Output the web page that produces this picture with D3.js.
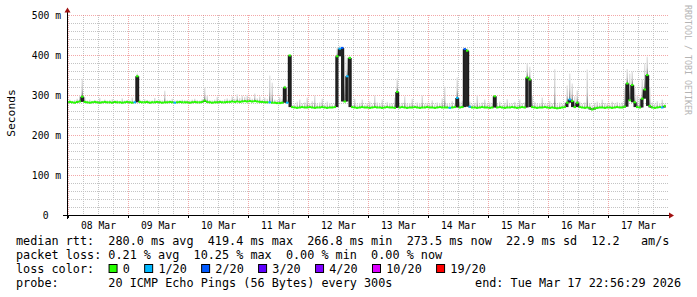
<!DOCTYPE html>
<html><head><meta charset="utf-8">
<script src="https://cdn.jsdelivr.net/npm/d3@7"></script>
<style>
body{margin:0;background:#fff}
svg{display:block}
text{font-family:"DejaVu Sans Mono",monospace;fill:#000}
</style>
</head><body>
<svg id="c" width="697" height="297"></svg>
<script>
// ---------------- data ----------------
const firstHour = "2026-03-07T23:00:00Z";   // hourly samples
const endTime = "2026-03-17T22:56:29Z";
const medianMs = [
 283,284,283,282,284,285,297,284,283,282,283,284,283,282,283,284,283,283,282,284,283,283,282,283,
 284,283,282,283,348,284,283,283,284,282,283,283,284,283,282,283,283,284,283,282,283,284,283,283,
 283,282,283,284,283,283,284,287,284,283,282,283,283,284,283,283,284,284,285,284,285,284,285,286,
 285,286,285,286,285,284,284,283,283,283,282,282,281,281,282,320,282,400,271,270,269,270,271,270,
 270,271,270,269,270,270,271,270,269,270,270,271,398,417,419,285,348,394,271,270,269,270,271,270,
 270,269,270,271,270,270,269,270,271,270,270,269,309,270,271,270,269,270,270,271,270,269,270,270,
 271,270,270,269,270,271,270,270,270,269,270,271,294,270,271,416,412,272,270,270,269,270,271,270,
 270,269,270,298,270,271,270,269,270,270,271,270,269,270,271,270,345,340,271,270,269,270,270,271,
 270,269,270,269,268,269,270,271,282,290,286,271,282,271,270,269,270,269,265,268,269,270,270,269,
 270,270,269,270,271,270,270,272,330,288,326,283,271,270,292,315,351,274,270,269,270,271,270,273.5
];
const smokeMaxMs = [
 288,290,287,289,292,300,342,296,288,290,287,289,288,294,287,290,288,289,291,288,289,287,293,288,
 289,288,295,288,355,290,288,291,289,288,288,294,288,290,288,312,289,288,292,288,289,288,290,289,
 289,288,290,292,289,288,291,320,300,289,288,290,297,289,288,291,293,290,298,292,303,294,300,297,
 302,296,292,305,293,298,290,295,292,350,332,290,289,296,292,325,290,402,276,278,285,290,280,283,
 295,281,286,300,279,283,292,278,285,281,278,280,420,424,422,400,395,398,276,292,278,282,290,277,
 281,285,278,300,283,279,290,277,284,281,280,295,343,278,282,298,279,281,292,277,283,280,300,279,
 282,279,288,278,283,280,293,322,281,279,286,280,345,284,287,420,418,285,279,282,300,278,283,290,
 279,283,281,300,279,285,277,282,291,279,280,284,278,290,281,283,380,372,300,284,279,281,295,280,
 279,286,280,366,278,283,279,283,325,355,330,298,313,285,279,283,365,280,276,282,285,279,290,281,
 280,278,285,280,284,279,283,320,366,355,360,318,300,295,340,380,397,320,283,279,286,281,290,279
];
const lossHours  = [27, 43, 81, 88, 109, 110, 112, 153, 156, 159, 161, 201, 238];
const lossLevels = [1,  1,  1,  1,  1,   2,   1,   1,   1,   2,   1,   1,   1];
const lossColors = ["#26ff00","#00b8ff","#0059ff","#5e00ff","#7e00ff","#dd00ff","#ff0000"];
const lossLabels = ["0","1/20","2/20","3/20","4/20","10/20","19/20"];
const yTicks = [0, 0.1, 0.2, 0.3, 0.4, 0.5];
const yTickLabels = ["0","100 m","200 m","300 m","400 m","500 m"];
const dayLabels = ["08 Mar","09 Mar","10 Mar","11 Mar","12 Mar","13 Mar","14 Mar","15 Mar","16 Mar","17 Mar"];
const legendRtt = "median rtt:  280.0 ms avg  419.4 ms max  266.8 ms min  273.5 ms now  22.9 ms sd  12.2   am/s";
const legendLoss = "packet loss: 0.21 % avg  10.25 % max  0.00 % min  0.00 % now";
const legendProbe = "probe:       20 ICMP Echo Pings (56 Bytes) every 300s";
const legendEnd = "end: Tue Mar 17 22:56:29 2026";

// ---------------- drawing ----------------
const svg = d3.select("#c");
svg.append("rect").attr("width",697).attr("height",297).attr("fill","#fff");

const L = 67, R = 668, T = 15, B = 215;
const x = d3.scaleUtc().domain([new Date("2026-03-08T00:00:00Z"), new Date("2026-03-18T00:00:00Z")]).range([68.5, 668.5]);
const y = d3.scaleLinear().domain([0, 0.5]).range([215.5, 15.5]);

const defs = svg.append("defs");
defs.append("clipPath").attr("id","plot").append("rect").attr("x",L).attr("y",T).attr("width",R-L+1).attr("height",B-T+1);
const g = defs.append("linearGradient").attr("id","smoke").attr("x1",0).attr("y1",0).attr("x2",0).attr("y2",1);
g.append("stop").attr("offset","0%").attr("stop-color","#e2e2e2");
g.append("stop").attr("offset","60%").attr("stop-color","#c4c4c4");
g.append("stop").attr("offset","100%").attr("stop-color","#6a6a6a");

// grid
const grid = svg.append("g");
const t0 = new Date("2026-03-08T00:00:00Z"), t1 = new Date("2026-03-18T00:00:00Z");
d3.utcHour.every(6).range(t0, t1).forEach(d => {
  const major = d.getUTCHours() === 0;
  grid.append("line").attr("x1",x(d)).attr("x2",x(d)).attr("y1",T).attr("y2",B)
    .attr("stroke", major ? "rgba(235,110,110,0.6)" : "#c4c4c4").attr("stroke-width",1)
    .attr("stroke-dasharray","1,1").attr("shape-rendering","crispEdges");
});
d3.range(0, 0.5001, 0.02).forEach(v => {
  const major = yTicks.some(t => Math.abs(t - v) < 1e-6);
  if (v === 0) return;
  grid.append("line").attr("x1",L).attr("x2",R).attr("y1",y(v)).attr("y2",y(v))
    .attr("stroke", major ? "rgba(235,110,110,0.6)" : "#c4c4c4").attr("stroke-width",1)
    .attr("stroke-dasharray","1,1").attr("shape-rendering","crispEdges");
});

// series
const start = new Date(firstHour), end = new Date(endTime);
const hourT = i => new Date(start.getTime() + i*3600e3);
const segEnd = i => new Date(Math.min(hourT(i+1).getTime(), end.getTime()));
const lossOf = i => { const k = lossHours.indexOf(i); return k < 0 ? 0 : lossLevels[k]; };
const plot = svg.append("g").attr("clip-path","url(#plot)");

// smoke (spread of the pings above the median)
plot.selectAll("rect.smoke").data(medianMs).enter().append("rect").attr("class","smoke")
  .attr("x",(d,i)=>x(hourT(i))+0.6)
  .attr("width",1.3)
  .attr("y",(d,i)=>y(smokeMaxMs[i]/1000))
  .attr("height",(d,i)=>Math.max(0, y(d/1000)-y(smokeMaxMs[i]/1000)))
  .attr("fill","url(#smoke)");

// dark core below a raised median (pings between the median and its neighbours)
plot.selectAll("rect.core").data(medianMs).enter().append("rect").attr("class","core")
  .attr("x",(d,i)=>x(hourT(i)))
  .attr("width",(d,i)=>x(segEnd(i))-x(hourT(i)))
  .attr("y",d=>y(d/1000))
  .attr("height",(d,i)=>{
    const lo = Math.min(d, medianMs[i-1] ?? d, medianMs[i+1] ?? d);
    return Math.max(0, y(lo/1000)-y(d/1000));
  })
  .attr("fill","#262626");

plot.selectAll("line.conn").data(medianMs.slice(1)).enter().append("line").attr("class","conn")
  .attr("x1",(d,j)=>x(hourT(j+1))).attr("x2",(d,j)=>x(hourT(j+1)))
  .attr("y1",(d,j)=>y(medianMs[j]/1000)).attr("y2",d=>y(d/1000))
  .attr("stroke","#1c1c1c").attr("stroke-width",1.4);

plot.selectAll("line.med").data(medianMs).enter().append("line").attr("class","med")
  .attr("x1",(d,i)=>x(hourT(i))).attr("x2",(d,i)=>x(segEnd(i)))
  .attr("y1",d=>y(d/1000)).attr("y2",d=>y(d/1000))
  .attr("stroke",(d,i)=>lossColors[lossOf(i)]).attr("stroke-width",2);

// axes
const ax = svg.append("g");
ax.append("line").attr("x1",63).attr("x2",669).attr("y1",215.5).attr("y2",215.5).attr("stroke","#000");
ax.append("line").attr("x1",67.5).attr("x2",67.5).attr("y1",219).attr("y2",12).attr("stroke","#000");
ax.append("path").attr("d","M669,212.5L674,215.5L669,218.5Z").attr("fill","#a01010");
ax.append("path").attr("d","M64.5,12.5L67.5,7.5L70.5,12.5Z").attr("fill","#a01010");
d3.utcDay.range(t0, t1).forEach(d => {
  ax.append("line").attr("x1",x(d)).attr("x2",x(d)).attr("y1",215).attr("y2",218).attr("stroke","#000");
});
yTicks.forEach((v,i) => {
  ax.append("text").attr("x", v === 0 ? 48.5 : 61).attr("y", y(v)+3.5)
    .attr("text-anchor","end").attr("font-size","9.7px").text(yTickLabels[i]);
});
d3.utcDay.range(t0, t1).forEach((d,i) => {
  ax.append("text").attr("x", x(new Date(d.getTime()+12*3600e3))).attr("y",228.5)
    .attr("text-anchor","middle").attr("font-size","9.7px").text(dayLabels[i]);
});
svg.append("text").attr("transform","translate(15,113) rotate(-90)").attr("text-anchor","middle")
  .attr("font-size","11.3px").text("Seconds");
svg.append("text").attr("transform","translate(685,5) rotate(90)").attr("text-anchor","start")
  .attr("font-size","8.3px").style("fill","#b4b4b4").text("RRDTOOL / TOBI OETIKER");

// legend
const cw = 7.12, lx = 16, fs = "11.8px";
const lt = (txt, xx, yy, anchor) => svg.append("text").attr("x",xx).attr("y",yy)
  .attr("text-anchor",anchor||"start").attr("font-size",fs).style("white-space","pre").text(txt);
lt(legendRtt, lx, 245);
lt(legendLoss, lx, 259);
lt("loss color:", lx, 273);
const swIdx = [13,18,26,34,42,50,59];
lossColors.forEach((c,i) => {
  svg.append("rect").attr("x", lx + swIdx[i]*cw + 0.5).attr("y",264.5).attr("width",8).attr("height",8)
    .attr("fill",c).attr("stroke","#000").attr("stroke-width",1);
  lt(lossLabels[i], lx + (swIdx[i]+2)*cw, 273);
});
lt(legendProbe, lx, 287);
lt(legendEnd, 681, 287, "end");
</script>
</body></html>
